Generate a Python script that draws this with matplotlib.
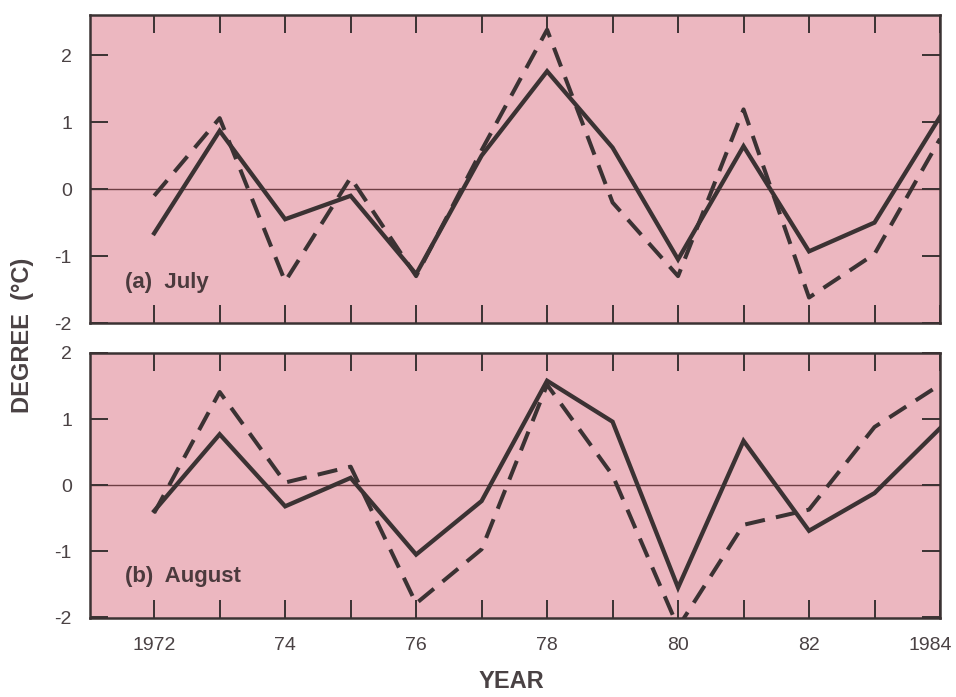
import matplotlib
matplotlib.use("Agg")
import matplotlib.pyplot as plt
from matplotlib.transforms import ScaledTranslation

years = [1972, 1973, 1974, 1975, 1976, 1977, 1978, 1979, 1980, 1981, 1982, 1983, 1984]
july_solid = [-0.66, 0.87, -0.45, -0.10, -1.27, 0.50, 1.76, 0.62, -1.05, 0.64, -0.93, -0.50, 1.08]
july_dashed = [-0.10, 1.06, -1.38, 0.17, -1.30, 0.58, 2.38, -0.20, -1.30, 1.19, -1.62, -0.97, 0.75]
aug_solid = [-0.39, 0.77, -0.32, 0.11, -1.05, -0.24, 1.58, 0.96, -1.55, 0.67, -0.69, -0.12, 0.86]
aug_dashed = [-0.42, 1.41, 0.04, 0.28, -1.79, -0.97, 1.52, 0.15, -2.15, -0.60, -0.37, 0.88, 1.52]

xticks = [1972, 1974, 1976, 1978, 1980, 1982, 1984]
xticklabels = ["1972", "74", "76", "78", "80", "82", "1984"]
yticks = [-2, -1, 0, 1, 2]

bg = "#ecb7c0"
ink = "#3b3233"
txt = "#4a4244"

plt.rcParams['font.family'] = ['Liberation Sans', 'DejaVu Sans']

fig = plt.figure(figsize=(9.56, 6.97), dpi=100)
ax1 = fig.add_axes([90/956, 1-323/697, 850/956, 308/697])
ax2 = fig.add_axes([90/956, 1-618/697, 850/956, 265/697])

panels = [
    (ax1, july_solid, july_dashed, (-1.97, 2.6), "(a)  July", 0.133),
    (ax2, aug_solid, aug_dashed, (-2.01, 1.97), "(b)  August", 0.155),
]

for ax, solid, dashed, ylim, label, ly in panels:
    ax.set_facecolor(bg)
    ax.axhline(0, color="#6e3e44", lw=1.0, zorder=1)
    ax.plot(years, solid, color=ink, lw=3.1, solid_joinstyle="miter", zorder=3)
    ax.plot(years, dashed, color=ink, lw=2.9, dashes=(5, 2.8), zorder=3)
    ax.set_xlim(1971.02, 1984.0)
    ax.set_ylim(*ylim)
    ax.set_xticks(years)
    ax.set_yticks(yticks)
    ax.set_yticklabels([str(v) for v in yticks])
    ax.tick_params(axis="both", direction="in", length=13, width=1.4, color=ink,
                   top=True, right=True, labelsize=14, labelcolor=txt)
    ax.tick_params(axis="y", pad=13)
    for s in ax.spines.values():
        s.set_color(ink)
        s.set_linewidth(1.8)
    ax.text(0.041, ly, label, transform=ax.transAxes, fontsize=16,
            color="#4b3a3d", fontweight="bold", ha="left", va="center")

ax1.tick_params(axis="x", labelbottom=False)
ax2.set_xticks(years)
ax2.set_xticklabels([xticklabels[xticks.index(y)] if y in xticks else "" for y in years])
ax2.tick_params(axis="x", pad=14)
# nudge the last label inward, as in the original
last = ax2.get_xticklabels()[-1]
last.set_transform(last.get_transform() + ScaledTranslation(-10/100, 0, fig.dpi_scale_trans))

fig.text(0.024, 0.519, "DEGREE  (°C)", rotation=90, ha="center", va="center",
         fontsize=17, fontweight="bold", color=txt)
fig.text(0.535, 0.006, "YEAR", ha="center", va="bottom",
         fontsize=17, fontweight="bold", color=txt)

fig.savefig("out.png", dpi=100, facecolor="white")
